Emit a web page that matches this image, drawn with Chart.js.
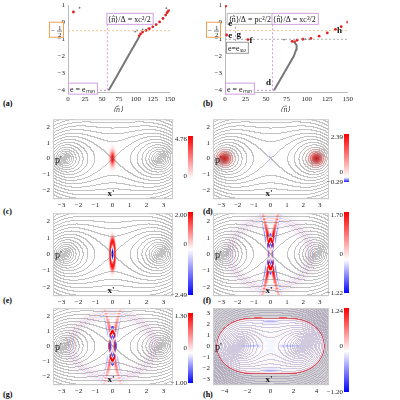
<!DOCTYPE html>
<html><head><meta charset="utf-8">
<script src="https://cdn.jsdelivr.net/npm/chart.js@4.4.0/dist/chart.umd.min.js"></script>
<style>
body{margin:0;background:#fff;width:400px;height:400px;overflow:hidden;position:relative;font-family:"DejaVu Serif",serif}
canvas{position:absolute}
.lab{position:absolute;font:bold 8px "Liberation Serif",serif}
</style></head><body>
<div class="lab" style="left:3px;top:99px">(a)</div>
<div class="lab" style="left:203px;top:99px">(b)</div>
<div class="lab" style="left:3px;top:207px">(c)</div>
<div class="lab" style="left:203px;top:207px">(d)</div>
<div class="lab" style="left:3px;top:296px">(e)</div>
<div class="lab" style="left:203px;top:296px">(f)</div>
<div class="lab" style="left:3px;top:390px">(g)</div>
<div class="lab" style="left:203px;top:390px">(h)</div>
<script>
// ---------------- data ----------------
const nTicks = [0, 25, 50, 75, 100, 125, 150];
const eTicks = [-4, -3, -2, -1, 0, 1];
const aGreyLine = [[60,-4],[70,-3.3],[80,-2.6],[90,-1.9],[100,-1.2],[105,-0.85]];
const aRed = [[8,0.6],[105,-0.8],[107,-0.68],[110,-0.58],[115,-0.48],[120,-0.38],[125,-0.27],[130,-0.14],[135,0.02],[140,0.22],[144,0.42],[146,0.56],[148,0.66]];
const aGrey = [[17,0.85],[99,-0.55],[102,-0.48],[110,-0.42],[118,-0.36],[145,0.82],[150,0.72]];
const bGreyLine = [[60,-4],[66,-3.5],[72,-3],[78,-2.5],[84,-2],[87,-1.6],[87.5,-1.35],[85,-1.18]];
const bRed = [[1,0.95],[2,-0.75],[28,-1.02],[82,-1.12],[85,-1.16],[88,-1.06],[95,-1.0],[105,-0.95],[115,-0.82],[125,-0.63],[135,-0.42],[142,-0.26],[150,0]];
const bGrey = [[72,-1.02],[98,-1.0],[103,-1.0]];
const phaseXTicks = [-3, -2, -1, 0, 1, 2, 3];
const phaseYTicks = [-2, -1, 0, 1, 2];
const hXTicks = [-4, -2, 0, 2, 4];
const hYTicks = [-3, -2, -1, 0, 1, 2, 3];
const cbarC = [0, 4.76], cbarD = [-0.29, 2.39], cbarE = [-2.49, 2.00];
const cbarF = [-1.22, 1.70], cbarG = [-1.00, 1.30], cbarH = [-1.20, 1.24];

const SERIF = '"Liberation Serif", serif';
const tickFont = {family: SERIF, size: 7};

function mkCanvas(l, t, w, h) {
  const c = document.createElement('canvas');
  c.style.left = l + 'px'; c.style.top = t + 'px';
  c.width = w; c.height = h; c.style.width = w + 'px'; c.style.height = h + 'px';
  document.body.appendChild(c);
  return c;
}
function axis(min, max, ticks, pos) {
  return {
    type: 'linear', min, max, position: pos,
    grid: {display: false, drawTicks: true, tickLength: 2},
    border: {color: '#bbb'},
    afterBuildTicks: s => { s.ticks = ticks.map(v => ({value: v})); },
    afterFit: s => { if (pos === 'left') s.width = 16; else s.height = 12; },
    ticks: {color: '#222', font: tickFont, padding: 1, maxRotation: 0,
      callback: v => (v < 0 ? '\u2212' + (-v) : '' + v)}
  };
}

// ---------------- top panels ----------------
function eLabel(ctx, ca) {
  ctx.save(); ctx.font = 'italic 8px ' + SERIF; ctx.fillStyle = '#444';
  ctx.fillText('e', ca.left - 24, (ca.top + ca.bottom) / 2 - 10);
  ctx.fillText('\u27E8n\u0302\u27E9', (ca.left + ca.right) / 2 - 6, ca.bottom + 20);
  ctx.restore();
}
function box(ctx, x, y, text, col) {
  ctx.font = '8px ' + SERIF;
  const w = ctx.measureText(text).width + 4;
  ctx.fillStyle = '#fff'; ctx.fillRect(x, y, w, 11);
  ctx.strokeStyle = col; ctx.lineWidth = 1; ctx.strokeRect(x + 0.5, y + 0.5, w, 11);
  ctx.fillStyle = '#111'; ctx.fillText(text, x + 2, y + 9);
}
function topChart(l, t, w, h, grey, red, greyLine, extra) {
  const c = mkCanvas(l - 20, t - 4, w + 24, h + 24);
  new Chart(c, {
    type: 'scatter',
    data: {datasets: [
      {data: greyLine.map(p => ({x: p[0], y: p[1]})), showLine: true, borderColor: '#777', borderWidth: 2, pointRadius: 0},
      {data: red.map(p => ({x: p[0], y: p[1]})), backgroundColor: '#e02020', borderWidth: 0, pointRadius: 1.4},
      {data: grey.map(p => ({x: p[0], y: p[1]})), backgroundColor: '#777', borderWidth: 0, pointRadius: 0.9}
    ]},
    options: {
      animation: false, responsive: false, devicePixelRatio: 1,
      layout: {padding: {left: 4, top: 4, right: 4, bottom: 8}},
      plugins: {legend: {display: false}, tooltip: {enabled: false}},
      scales: {x: axis(0, 150, nTicks, 'bottom'), y: axis(-4.1, 1, eTicks, 'left')}
    },
    plugins: [{id: 'ann', afterDatasetsDraw(ch) { const ctx = ch.ctx, X = ch.scales.x, Y = ch.scales.y; eLabel(ctx, ch.chartArea); extra(ctx, X, Y, ch.chartArea); }}]
  });
}
function hline(ctx, X, Y, x0, x1, y, col, dash) {
  ctx.save(); ctx.strokeStyle = col; ctx.setLineDash(dash); ctx.lineWidth = 0.8;
  ctx.beginPath(); ctx.moveTo(X.getPixelForValue(x0), Y.getPixelForValue(y)); ctx.lineTo(X.getPixelForValue(x1), Y.getPixelForValue(y)); ctx.stroke(); ctx.restore();
}
function vline(ctx, X, Y, x, y0, y1, col, dash) {
  ctx.save(); ctx.strokeStyle = col; ctx.setLineDash(dash); ctx.lineWidth = 0.8;
  ctx.beginPath(); ctx.moveTo(X.getPixelForValue(x), Y.getPixelForValue(y0)); ctx.lineTo(X.getPixelForValue(x), Y.getPixelForValue(y1)); ctx.stroke(); ctx.restore();
}
function halfBox(ctx, ca, Y) {
  const y = Y.getPixelForValue(-0.5);
  ctx.save(); ctx.fillStyle = '#fff'; ctx.fillRect(ca.left - 18, y - 8, 14, 15);
  ctx.strokeStyle = '#f0a050'; ctx.strokeRect(ca.left - 18.5, y - 8.5, 14, 15);
  ctx.fillStyle = '#222'; ctx.font = '7px ' + SERIF; ctx.fillText('\u2212', ca.left - 17, y + 2);
  ctx.fillText('1', ca.left - 10, y - 1); ctx.fillText('2', ca.left - 10, y + 6);
  ctx.fillRect(ca.left - 11, y, 5, 0.6); ctx.restore();
}
topChart(68, 4, 104, 88, aGrey, aRed, aGreyLine, (ctx, X, Y, ca) => {
  hline(ctx, X, Y, 0, 150, -0.5, '#f3b070', [2, 2]);
  vline(ctx, X, Y, 58, -4, 0.3, '#d080d0', [2, 2]);
  hline(ctx, X, Y, 0, 60, -4, '#c070c0', [2, 2]);
  box(ctx, X.getPixelForValue(58) - 1, Y.getPixelForValue(0.55), '\u27E8n\u0302\u27E9/\u0394 = x\u1D04\u00B2/2', '#d0a0e0');
  box(ctx, ca.left, Y.getPixelForValue(-3.55), 'e = e\u2098\u1D62\u2099', '#d0a0e0');
  halfBox(ctx, ca, Y);
});
topChart(225, 4, 125, 88, bGrey, bRed, bGreyLine, (ctx, X, Y, ca) => {
  hline(ctx, X, Y, 0, 150, -0.5, '#f3b070', [2, 2]);
  hline(ctx, X, Y, 0, 150, -1, '#999', [2, 2]);
  vline(ctx, X, Y, 58, -4, 0.3, '#d080d0', [2, 2]);
  vline(ctx, X, Y, 13, -1.1, 0.05, '#999', [2, 2]);
  hline(ctx, X, Y, 0, 60, -4, '#c070c0', [2, 2]);
  box(ctx, X.getPixelForValue(2), Y.getPixelForValue(0.55), '\u27E8n\u0302\u27E9/\u0394 = p\u1D04\u00B2/2', '#bbb');
  box(ctx, X.getPixelForValue(58) - 1, Y.getPixelForValue(0.55), '\u27E8n\u0302\u27E9/\u0394 = x\u1D04\u00B2/2', '#d0a0e0');
  box(ctx, ca.left, Y.getPixelForValue(-3.55), 'e = e\u2098\u1D62\u2099', '#d0a0e0');
  box(ctx, ca.left + 1, Y.getPixelForValue(-1.15), 'e=e\u209B\u2090\u2094', '#999');
  ctx.font = 'bold 9px ' + SERIF; ctx.fillStyle = '#111';
  const T = (s, x, y) => ctx.fillText(s, X.getPixelForValue(x), Y.getPixelForValue(y));
  T('e', 4, -0.2); T('e', 4, -0.9); T('g', 14, -0.85); T('f', 30, -1.25); T('d', 50, -3.7); T('h', 137, -0.65);
  halfBox(ctx, ca, Y);
});

// ---------------- phase-space panels ----------------
const X0 = 2.8;
function sH(x, p) { const a = x * x - p * p - X0 * X0; return Math.sqrt(Math.sqrt(a * a + 4 * x * x * p * p)); }
const G = (x, p, sx, sp) => Math.exp(-x * x / (2 * sx * sx) - p * p / (2 * sp * sp));
function ring(x, p) { const R = Math.hypot(x, p * 1.15); return 0.16 * Math.cos(R * 28) * Math.exp(-((R - 2.45) ** 2) / 0.12); }
function core(x, p, sx, sp) { const r = Math.hypot(x / sx, p / sp);
  return -Math.cos(r * Math.PI * 3) * Math.exp(-((r - 1) ** 2) / 0.35) * (r < 1.4 ? 1 : 0); }
function arms(x, p, amp) { const q = Math.abs(p); if (q < 0.5) return 0;
  const a = 0.1 + 0.14 * Math.pow(q - 0.5, 1.5), d = Math.abs(x) - a;
  return amp * Math.min(1, (q - 0.5) * 3) * Math.exp(-Math.max(0, q - 1.2) / 1.0) *
    (Math.exp(-((d / 0.1) ** 2)) - 0.5 * Math.exp(-(((d - 0.17) / 0.05) ** 2))); }
const fields = {
  c: (x, p) => G(x, p, 0.1, 0.32),
  d: (x, p) => G(x - 2.8, p, 0.26, 0.26) + G(x + 2.8, p, 0.26, 0.26) - 0.08 * G(x, p, 0.1, 0.3),
  e: (x, p) => 0.95 * Math.exp(-((Math.hypot(x / 0.14, p / 0.75) - 1) ** 2) / 0.2) - 1.3 * G(x, p, 0.05, 0.25),
  f: (x, p) => core(x, p, 0.16, 0.9) + arms(x, p, 1) + ring(x, p),
  g: (x, p) => core(x, p, 0.17, 0.95) + arms(x, p, 0.6) + ring(x, p),
  h: (x, p) => { const s = sH(x, p); let v = 0.75 * Math.exp(-((s - 3.75) ** 2) / 0.006);
    v -= 0.25 * Math.exp(-(p * p) / 0.01) * Math.exp(-((Math.abs(x) - 1.6) ** 2) / 0.8);
    v -= 0.25 * Math.exp(-((Math.abs(p) - 2.3) ** 2) / 0.05) * Math.exp(-x * x / 0.6);
    return s < 3.75 ? v + 0.04 * Math.cos(s * 30) : v; }
};
function colorOf(v) { v = Math.max(-1, Math.min(1, v));
  return v >= 0 ? [255, 255 * (1 - v), 255 * (1 - v)] : [255 * (1 + v), 255 * (1 + v), 255]; }

function phaseChart(l, t, w, h, key, xr, yr, xt, yt, cb, barTop, barBot, step) {
  const c = mkCanvas(l - 20, t - 4, w + 60, h + 20);
  const isH = key === 'h';
  new Chart(c, {
    type: 'scatter',
    data: {datasets: [{data: []}]},
    options: {
      animation: false, responsive: false, devicePixelRatio: 1,
      layout: {padding: {left: 4, top: 4, right: 40, bottom: 4}},
      plugins: {legend: {display: false}, tooltip: {enabled: false}},
      scales: {x: axis(xr[0], xr[1], xt, 'bottom'), y: axis(yr[0], yr[1], yt, 'left')}
    },
    plugins: [{id: 'field', beforeDatasetsDraw(ch) {
      const ctx = ch.ctx, ca = ch.chartArea, X = ch.scales.x, Y = ch.scales.y;
      const W = Math.round(ca.right - ca.left), Hh = Math.round(ca.bottom - ca.top);
      const img = ctx.createImageData(W, Hh), f = fields[key];
      const lev = [];
      for (let j = 0; j <= Hh; j++) { lev.push([]); for (let i = 0; i <= W; i++) {
        lev[j].push(Math.floor(sH(X.getValueForPixel(ca.left + i), Y.getValueForPixel(ca.top + j)) / step)); } }
      for (let j = 0; j < Hh; j++) for (let i = 0; i < W; i++) {
        const x = X.getValueForPixel(ca.left + i + 0.5), p = Y.getValueForPixel(ca.top + j + 0.5);
        let col = colorOf(f(x, p));
        if (isH && sH(x, p) > 3.78) col = [212, 212, 212];
        const edge = lev[j][i] !== lev[j][i + 1] || lev[j][i] !== lev[j + 1][i];
        if (edge) { const k = isH ? 0.3 : 0.42; const lc = isH ? [110, 90, 150] : [110, 110, 110];
          col = col.map((v, q) => v * (1 - k) + lc[q] * k); }
        const o = (j * W + i) * 4;
        img.data[o] = col[0]; img.data[o + 1] = col[1]; img.data[o + 2] = col[2]; img.data[o + 3] = 255;
      }
      ctx.putImageData(img, ca.left, ca.top);
      ctx.strokeStyle = '#ccc'; ctx.lineWidth = 1; ctx.strokeRect(ca.left + 0.5, ca.top + 0.5, W, Hh);
      // labels
      ctx.fillStyle = '#111'; ctx.font = '10px ' + SERIF;
      ctx.fillText("p'", ca.left + 2, Y.getPixelForValue(0) + 4);
      ctx.font = 'bold 9px ' + SERIF; ctx.fillText("x'", X.getPixelForValue(0) - 5, ca.bottom - 2);
      // colorbar
      const bx = ca.right + 16, bt = barTop - t + 4, bb = barBot - t + 4;
      const zeroY = bb - (0 - cb[0]) / (cb[1] - cb[0]) * (bb - bt);
      for (let y = bt; y < bb; y++) {
        const v = cb[0] + (bb - y) / (bb - bt) * (cb[1] - cb[0]);
        const n = v >= 0 ? v / cb[1] : (cb[0] < 0 ? v / -cb[0] : 0);
        const cc = colorOf(n); ctx.fillStyle = `rgb(${cc[0]|0},${cc[1]|0},${cc[2]|0})`; ctx.fillRect(bx, y, 5, 1);
      }
      ctx.fillStyle = '#222'; ctx.font = '7px ' + SERIF; ctx.textAlign = 'right';
      ctx.fillText(cb[1].toFixed(2), bx - 1, bt + 5);
      ctx.fillText('0', bx - 1, zeroY + (cb[0] === 0 ? 0 : -3));
      if (cb[0] < 0) ctx.fillText('\u2212' + (-cb[0]).toFixed(2), bx - 1, bb + 2);
      ctx.textAlign = 'left';
    }}]
  });
}
const ph = [-3.5, 3.5], pp = [-2.5, 2.5];
phaseChart(53, 118, 119, 80, 'c', ph, pp, phaseXTicks, phaseYTicks, cbarC, 136, 178, 0.2);
phaseChart(213, 118, 115, 80, 'd', ph, pp, phaseXTicks, phaseYTicks, cbarD, 134, 182, 0.2);
phaseChart(53, 212, 119, 83, 'e', ph, pp, phaseXTicks, phaseYTicks, cbarE, 212, 295, 0.2);
phaseChart(213, 212, 115, 83, 'f', ph, pp, phaseXTicks, phaseYTicks, cbarF, 212, 293, 0.2);
phaseChart(53, 307, 119, 77, 'g', ph, pp, phaseXTicks, phaseYTicks, cbarG, 313, 383, 0.2);
phaseChart(213, 307, 115, 77, 'h', [-5, 5], [-3.4, 3.4], hXTicks, hYTicks, cbarH, 308, 392, 0.17);
</script></body></html>
